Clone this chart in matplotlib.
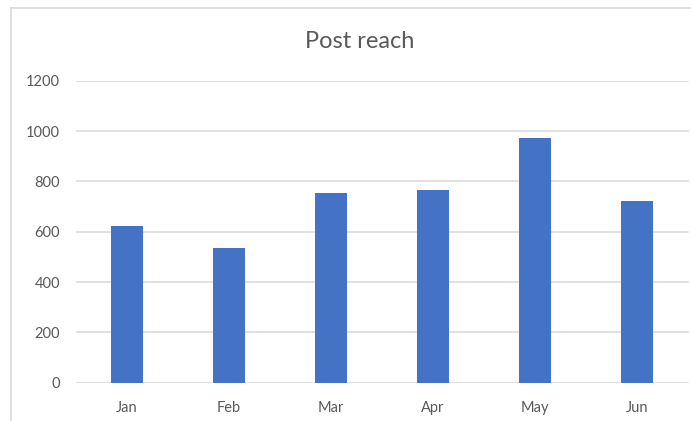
import matplotlib.pyplot as plt
from matplotlib.lines import Line2D

months = ['Jan', 'Feb', 'Mar', 'Apr', 'May', 'Jun']
reach = [623, 537, 755, 765, 974, 723]
yticks = [0, 200, 400, 600, 800, 1000, 1200]

plt.rcParams['font.family'] = ['Lato', 'DejaVu Sans']

W, H = 691, 421
fig = plt.figure(figsize=(W / 100, H / 100), dpi=100)
ax = fig.add_axes([75.5 / W, 1 - 382.7 / H, 613 / W, 302 / H])

# chart area frame (only left and top visible)
fig.add_artist(Line2D([11 / W, 11 / W], [0, 1 - 8 / H], color='#d9d9d9', lw=1.2))
fig.add_artist(Line2D([11 / W, 1], [1 - 8 / H, 1 - 8 / H], color='#d9d9d9', lw=1.2))

x = range(len(months))
ax.bar(x, reach, width=0.313, color='#4472C4', zorder=3)

ax.set_xlim(-0.5, 5.5)
ax.set_ylim(0, 1200)
ax.set_yticks(yticks)
ax.set_xticks(list(x))
ax.set_xticklabels(months)
ax.grid(axis='y', color='#d9d9d9', lw=1.1, zorder=0)
ax.tick_params(length=0, colors='#595959', labelsize=10.5)
ax.tick_params(axis='y', pad=11)
ax.tick_params(axis='x', pad=13)
for s in ax.spines.values():
    s.set_visible(False)

fig.text(360 / W, 1 - 42 / H, 'Post reach', ha='center', va='center',
         fontsize=17, color='#595959')

fig.savefig('out.png', dpi=100)
